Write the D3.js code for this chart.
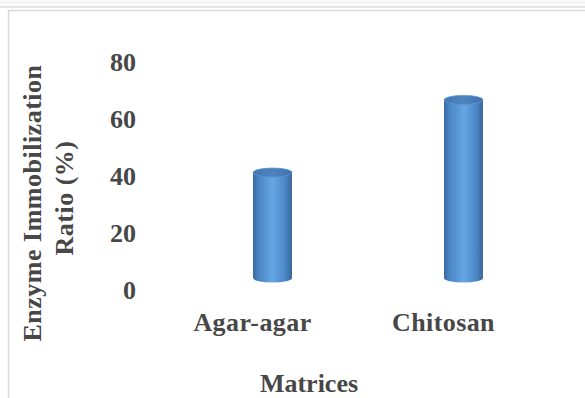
<!DOCTYPE html>
<html><head><meta charset="utf-8">
<script src="https://cdn.jsdelivr.net/npm/d3@7"></script>
<style>
html,body{margin:0;padding:0;background:#fff;}
svg{display:block;}
text{font-family:"Liberation Serif","Times New Roman",serif;font-weight:bold;fill:#474747;}
</style></head>
<body>
<script>
const categories = ["Agar-agar", "Chitosan"];
const values = [37, 62.5];
const yTicks = [0, 20, 40, 60, 80];
const yTitle = ["Enzyme Immobilization", "Ratio (%)"];
const xTitle = "Matrices";

const W = 585, H = 398;
const svg = d3.select("body").append("svg").attr("width", W).attr("height", H);

// frame
svg.append("rect").attr("x",0).attr("y",0).attr("width",W).attr("height",8).attr("fill","#fafafa");
svg.append("line").attr("x1",0).attr("x2",W).attr("y1",2.5).attr("y2",2.5).attr("stroke","#ececec");
svg.append("line").attr("x1",0).attr("x2",W).attr("y1",7).attr("y2",7).attr("stroke","#dedede").attr("stroke-width",1.5);
svg.append("path").attr("d",`M8.5,${H}V10.5H${W}`).attr("fill","none").attr("stroke","#d9d9d9").attr("stroke-width",1.5);

const y = d3.scaleLinear().domain([0,80]).range([290,62]);
const x = d3.scaleBand().domain(categories).range([157,539]);

const depth = 12, bw = 39, ry = 4.5;

// gradients
const defs = svg.append("defs");
const g = defs.append("linearGradient").attr("id","body").attr("x1","0").attr("x2","1").attr("y1","0").attr("y2","0");
[[0,"#3a6aa2"],[0.15,"#4b85c4"],[0.5,"#64a6e4"],[0.8,"#4f8acb"],[1,"#3a679c"]].forEach(s=>g.append("stop").attr("offset",s[0]).attr("stop-color",s[1]));
const gt = defs.append("linearGradient").attr("id","top").attr("x1","0").attr("x2","1").attr("y1","0").attr("y2","0");
[[0,"#4377b2"],[0.5,"#4d83c0"],[1,"#3f71aa"]].forEach(s=>gt.append("stop").attr("offset",s[0]).attr("stop-color",s[1]));

// axis (labels only)
const yAxis = d3.axisLeft(y).tickValues(yTicks).tickSize(0).tickPadding(0);
const ag = svg.append("g").attr("transform","translate(136,0)").call(yAxis);
ag.select(".domain").remove();
ag.selectAll("text").attr("font-size",26).attr("dy","0.34em").style("font-family","Liberation Serif").style("font-weight","bold").attr("fill","#474747");

const xAxis = d3.axisBottom(x).tickSize(0).tickPadding(0);
const xg = svg.append("g").attr("transform","translate(0,331)").call(xAxis);
xg.select(".domain").remove();
xg.selectAll("text").attr("font-size",26).attr("dy",0).attr("letter-spacing",0.4).style("font-family","Liberation Serif").style("font-weight","bold").attr("fill","#474747");

// cylinders
const bars = svg.append("g").selectAll("g").data(categories.map((c,i)=>({c, v:values[i]}))).join("g");
bars.each(function(d){
  const cx = x(d.c) + x.bandwidth()/2 + 20;
  const rx = bw/2;
  const yb = y(0) - depth, yt = y(d.v) - depth;
  const sel = d3.select(this);
  sel.append("path")
    .attr("d", `M${cx-rx},${yt} L${cx-rx},${yb} A${rx},${ry} 0 0 0 ${cx+rx},${yb} L${cx+rx},${yt} Z`)
    .attr("fill","url(#body)");
  sel.append("ellipse").attr("cx",cx).attr("cy",yt).attr("rx",rx).attr("ry",ry)
    .attr("fill","url(#top)").attr("stroke","#5b93cf").attr("stroke-width",0.8);
});

// titles
svg.append("text").attr("transform","translate(41,203) rotate(-90)").attr("text-anchor","middle").attr("font-size",26).attr("letter-spacing",0.5).text(yTitle[0]);
svg.append("text").attr("transform","translate(73,198) rotate(-90)").attr("text-anchor","middle").attr("font-size",26).attr("letter-spacing",0.5).text(yTitle[1]);
svg.append("text").attr("x",309).attr("y",392).attr("text-anchor","middle").attr("font-size",26).text(xTitle);
</script>
</body></html>
